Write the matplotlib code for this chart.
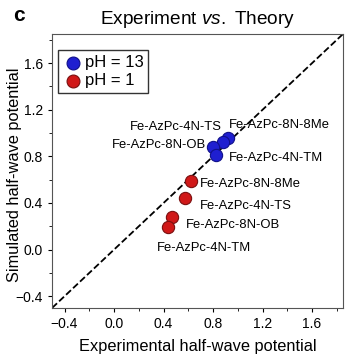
import matplotlib.pyplot as plt
from matplotlib.ticker import MultipleLocator

# experimental vs simulated half-wave potential
names = ["Fe-AzPc-8N-8Me", "Fe-AzPc-4N-TS", "Fe-AzPc-8N-OB", "Fe-AzPc-4N-TM"]
exp_ph13 = [0.92, 0.88, 0.80, 0.82]
sim_ph13 = [0.96, 0.92, 0.88, 0.81]
exp_ph1 = [0.62, 0.57, 0.47, 0.44]
sim_ph1 = [0.59, 0.44, 0.28, 0.19]

# label positions (data coords, left edge / vertical centre)
lab13 = [(0.93, 1.07), (0.13, 1.055), (-0.02, 0.895), (0.93, 0.79)]
lab1 = [(0.69, 0.56), (0.69, 0.375), (0.58, 0.21), (0.35, 0.01)]

plt.rcParams['font.family'] = ['Arial', 'Liberation Sans', 'DejaVu Sans']
plt.rcParams['mathtext.fontset'] = 'custom'
plt.rcParams['mathtext.it'] = 'Liberation Sans:italic'
plt.rcParams['mathtext.rm'] = 'Liberation Sans'

fig = plt.figure(figsize=(3.5, 3.58), dpi=100)
ax = fig.add_axes([0.149, 0.14, 0.831, 0.765])

ax.plot([-0.5, 1.85], [-0.5, 1.85], 'k--', lw=1.3, zorder=1)
ax.scatter(exp_ph13, sim_ph13, s=78, c='#1f1fd0', edgecolors='#10108a', lw=0.8, label='pH = 13', zorder=3)
ax.scatter(exp_ph1, sim_ph1, s=78, c='#d01818', edgecolors='#7a1010', lw=0.8, label='pH = 1', zorder=3)

for n, (x, y) in zip(names, lab13):
    ax.text(x, y, n, fontsize=9.4, va='center', ha='left')
for n, (x, y) in zip(names, lab1):
    ax.text(x, y, n, fontsize=9.4, va='center', ha='left')

ax.set_xlim(-0.5, 1.85)
ax.set_ylim(-0.5, 1.85)
ax.xaxis.set_minor_locator(MultipleLocator(0.2))
ax.yaxis.set_minor_locator(MultipleLocator(0.2))
ax.set_xticks([-0.4, 0.0, 0.4, 0.8, 1.2, 1.6])
ax.set_yticks([-0.4, 0.0, 0.4, 0.8, 1.2, 1.6])
ax.tick_params(which='both', direction='out', labelsize=10)
ax.tick_params(which='major', length=3)
ax.tick_params(which='minor', length=2)
for s in ax.spines.values():
    s.set_color('#555555')

ax.set_xlabel("Experimental half-wave potential", fontsize=11.8)
ax.set_ylabel("Simulated half-wave potential", fontsize=11.8)
ax.xaxis.set_label_coords(0.5, -0.115)
ax.yaxis.set_label_coords(-0.103, 0.485)
ax.set_title(r"Experiment $\it{vs.}$ Theory", fontsize=13.7, pad=7)
fig.text(0.037, 0.94, "c", fontsize=15, fontweight='bold')

leg = ax.legend(loc='upper left', bbox_to_anchor=(0.02, 0.942), fontsize=12, fancybox=False,
                edgecolor='black', handletextpad=0.1, borderpad=0.3, labelspacing=0.2,
                handlelength=1.2, borderaxespad=0, markerscale=1.05)
leg.get_frame().set_linewidth(1.0)

plt.savefig("out.png", dpi=100)
